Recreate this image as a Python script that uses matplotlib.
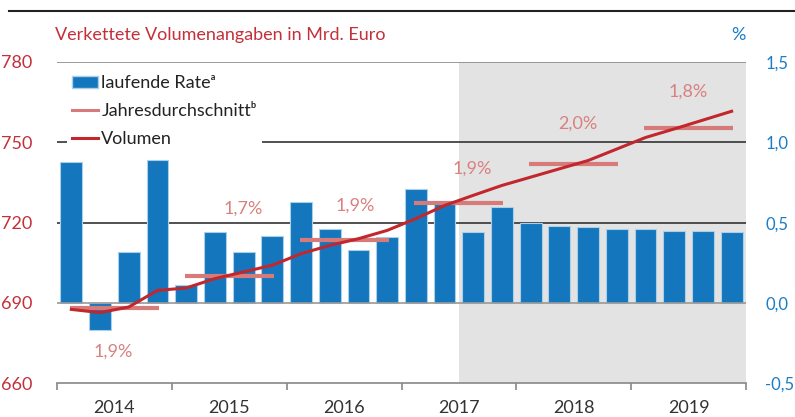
import matplotlib
matplotlib.use('Agg')
import matplotlib.pyplot as plt
from matplotlib.patches import Patch
from matplotlib.lines import Line2D
import numpy as np

plt.rcParams['font.family'] = ['Lato', 'DejaVu Sans']

# ---------------- data ----------------
years = ['2014', '2015', '2016', '2017', '2018', '2019']
quarters = [f'{y}Q{q}' for y in years for q in range(1, 5)]
rate = [0.88, -0.17, 0.32, 0.89, 0.11, 0.44, 0.32, 0.42,
        0.63, 0.46, 0.33, 0.41, 0.71, 0.62, 0.44, 0.60,
        0.50, 0.48, 0.47, 0.46, 0.46, 0.45, 0.45, 0.44]
volume = [687.6, 686.4, 688.5, 694.7, 695.6, 699.1, 701.6, 704.1,
          708.4, 711.5, 714.0, 717.1, 721.5, 726.4, 730.2, 733.9,
          737.0, 740.1, 743.2, 747.5, 751.8, 755.0, 758.3, 761.6]
annual_avg = [688.1, 700.2, 713.6, 727.3, 742.0, 755.4]
annual_growth = ['1,9%', '1,7%', '1,9%', '1,9%', '2,0%', '1,8%']
forecast_start = '2017Q3'
left_ticks = [660, 690, 720, 750, 780]
right_ticks = [-0.5, 0.0, 0.5, 1.0, 1.5]

# label placement (quarter index, volume units)
label_x = [1.45, 6.0, 9.9, 13.95, 17.65, 21.5]
label_y = [671.7, 725.3, 726.5, 740.3, 757.1, 769.0]

BLUE = '#1476bd'
BLUE_TXT = '#1a7cc4'
RED = '#c1272d'
RED_TXT = '#c4303a'
PINK = '#d67a7a'
PINK_TXT = '#d98080'
FS = 13

fig = plt.figure(figsize=(7.95, 4.17), dpi=100)
W, H = 795, 417
ax = fig.add_axes([57 / W, (H - 383.3) / H, 689 / W, (383.3 - 62) / H])
x = np.arange(len(quarters))
ax.set_xlim(-0.5, len(quarters) - 0.5)
ax.set_ylim(right_ticks[0], right_ticks[-1])

fs_idx = quarters.index(forecast_start)
ax.axvspan(fs_idx - 0.5, len(quarters) - 0.5, color='#e3e3e3', lw=0, zorder=0)

ax.axhline(1.5, color='#8a8a8a', lw=1.2, zorder=1)
ax.axhline(1.0, color='#333333', lw=1.2, zorder=1)
ax.axhline(0.5, color='#333333', lw=1.2, zorder=1)
ax.bar(x, rate, width=0.76, color=BLUE, edgecolor='#a9cfe9', linewidth=0.8, zorder=2)
ax.axhline(0.0, color='#999999', lw=1.2, zorder=3)

for s in ['top', 'left', 'right']:
    ax.spines[s].set_visible(False)
ax.spines['bottom'].set_color('#888888')
ax.spines['bottom'].set_linewidth(1.2)

bounds = np.arange(-0.5, len(quarters), 4)
ax.set_xticks(bounds)
ax.set_xticklabels([])
ax.set_xticks(np.arange(1.5, len(quarters), 4), minor=True)
ax.set_xticklabels(years, minor=True)
ax.tick_params(axis='x', which='major', length=5, color='#888888', width=1.2)
ax.tick_params(axis='x', which='minor', length=0, pad=12, labelsize=FS, labelcolor='#333333')

axl = ax.twinx()
axl.yaxis.tick_left()
axl.set_ylim(left_ticks[0], left_ticks[-1])
axl.set_yticks(left_ticks)
axl.tick_params(axis='y', length=0, pad=18, labelsize=FS, labelcolor=RED_TXT)
for s in axl.spines.values():
    s.set_visible(False)

ax.yaxis.tick_right()
ax.set_yticks(right_ticks)
ax.set_yticklabels([f'{v:.1f}'.replace('.', ',') for v in right_ticks])
ax.tick_params(axis='y', length=0, pad=14, labelsize=12, labelcolor=BLUE_TXT)

for i, v in enumerate(annual_avg):
    axl.plot([4 * i - 0.05, 4 * i + 3.05], [v, v], color=PINK, lw=3, solid_capstyle='butt', zorder=2)
axl.plot(x, volume, color=RED, lw=2.2, zorder=3)

for lx, ly, t in zip(label_x, label_y, annual_growth):
    axl.text(lx, ly, t, ha='center', va='center', color=PINK_TXT, fontsize=FS, zorder=4)

handles = [Patch(facecolor=BLUE, edgecolor='#a9cfe9'),
           Line2D([], [], color=PINK, lw=2.2),
           Line2D([], [], color=RED, lw=2.2)]
labels = ['laufende Rateᵃ', 'Jahresdurchschnittᵇ', 'Volumen']
leg = axl.legend(handles, labels, loc='upper left', bbox_to_anchor=(67 / W, 1 - 70 / H),
                 bbox_transform=fig.transFigure, frameon=True, facecolor='white',
                 edgecolor='none', framealpha=1, fancybox=False, handlelength=1.4,
                 handleheight=0.6, handletextpad=0.2, labelspacing=0.65, borderpad=0.3,
                 borderaxespad=0, fontsize=FS)
for t in leg.get_texts():
    t.set_color('#222222')

fig.text(55 / W, 1 - 35 / H, 'Verkettete Volumenangaben in Mrd. Euro', color=RED_TXT,
         fontsize=FS, ha='left', va='center')
fig.text(738 / W, 1 - 35 / H, '%', color=BLUE_TXT, fontsize=FS, ha='center', va='center')
fig.add_artist(Line2D([9 / W, 1], [1 - 11 / H, 1 - 11 / H], color='#222222', lw=1.5))

fig.savefig('out.png', dpi=100)
